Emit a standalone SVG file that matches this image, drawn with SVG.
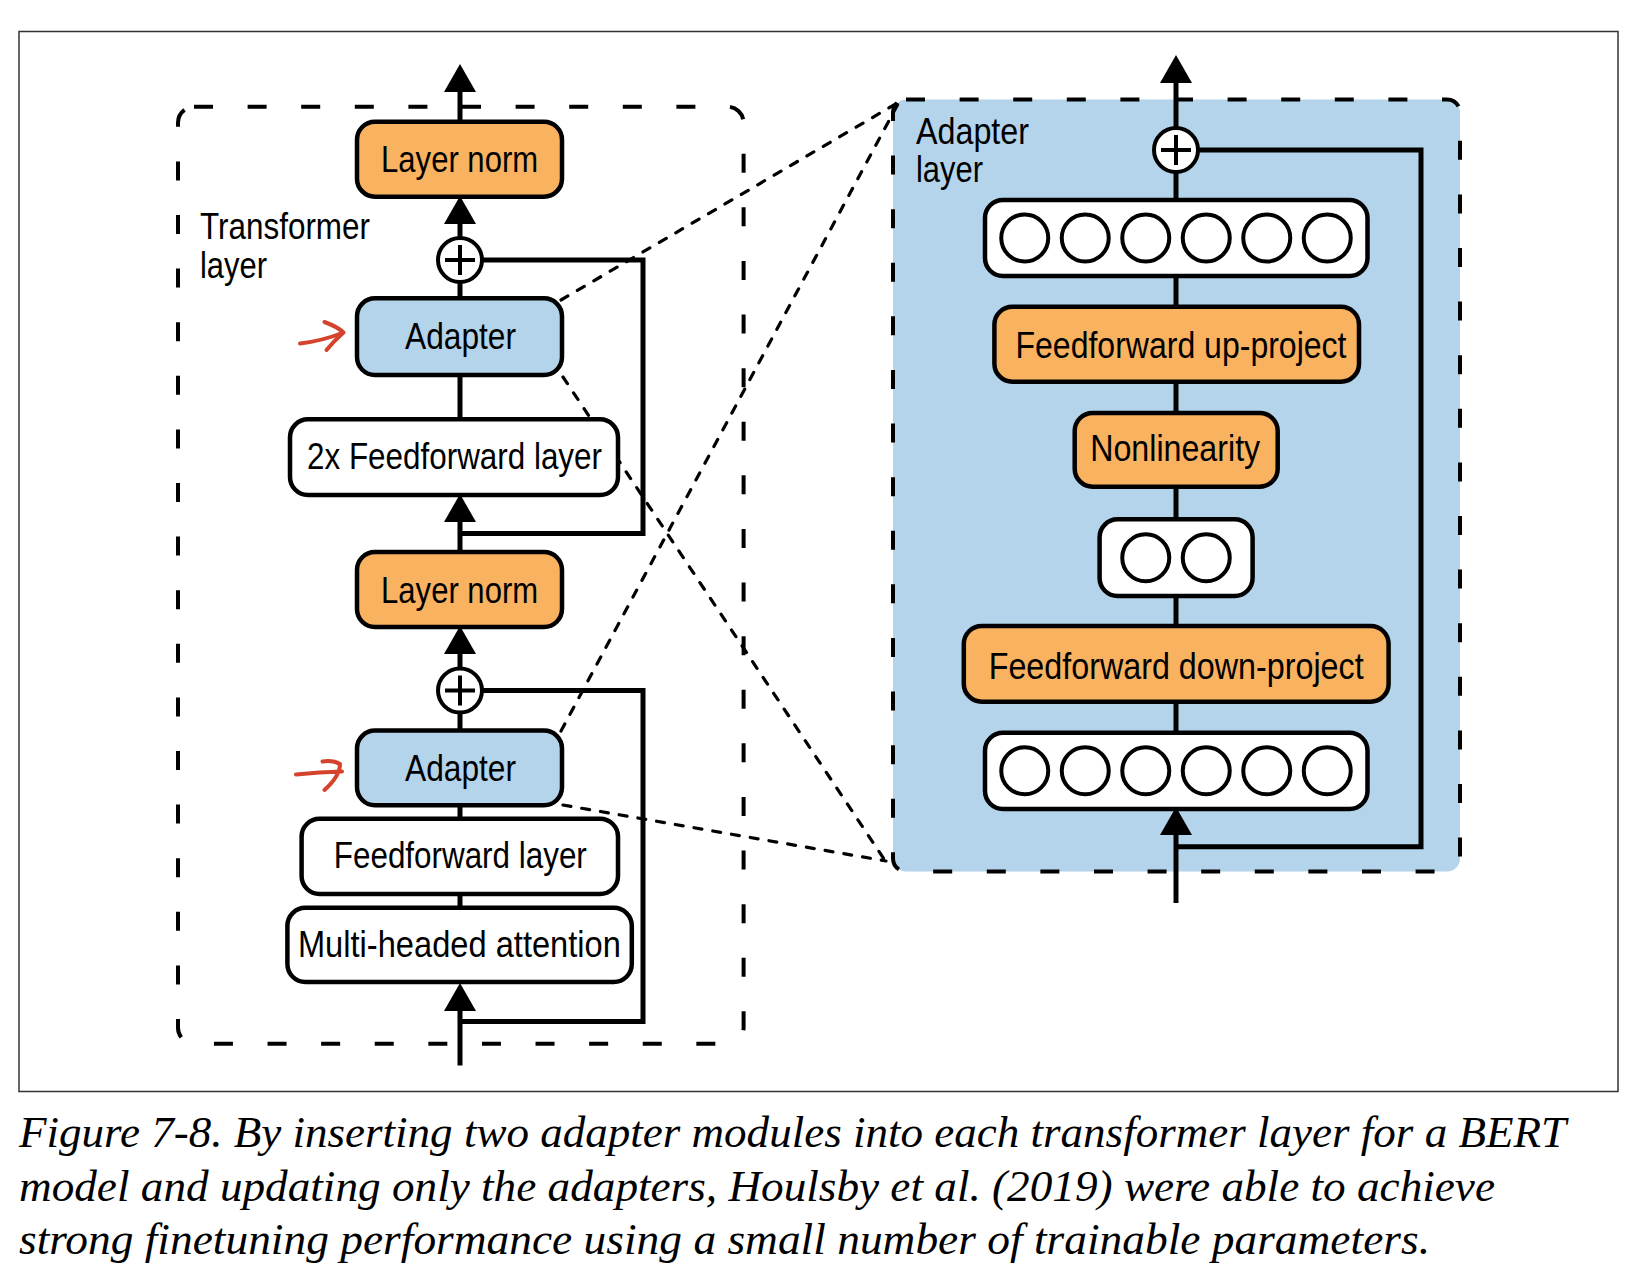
<svg xmlns="http://www.w3.org/2000/svg" width="1636" height="1286" viewBox="0 0 1636 1286">
<style>
.box{stroke:#000;stroke-width:4.5}
.orange{fill:#F9B25F}
.blue{fill:#B3D4EA}
.white{fill:#fff}
.lbl{font-family:"Liberation Sans","Noto Sans",sans-serif;font-size:37px;fill:#000}
.mid{text-anchor:middle}
.wire{fill:none;stroke:#000;stroke-width:5}
.dash{stroke:#000;stroke-width:4;stroke-dasharray:19 34.6}
.nofill{fill:none}
.zoomline{fill:none;stroke:#000;stroke-width:3.2;stroke-dasharray:8 11;stroke-linecap:round}
.neuron{fill:#fff;stroke:#000;stroke-width:4}
.plus{fill:#fff;stroke:#000;stroke-width:4}
.red{fill:none;stroke:#D4432B;stroke-width:4;stroke-linecap:round;stroke-linejoin:round}
.cap{font-family:"Liberation Serif","DejaVu Serif",serif;font-style:italic;font-size:45px;fill:#000}
</style>
<defs>
<marker id="ah" viewBox="0 0 28 32" refX="0" refY="16" markerWidth="28" markerHeight="32" markerUnits="userSpaceOnUse" orient="auto">
<path d="M0,0 L28,16 L0,32 Z" fill="#000"/>
</marker>
</defs>

<rect x="19" y="31.5" width="1599" height="1060" fill="#fff" stroke="#333" stroke-width="1.5"/>

<!-- containers -->
<g id="transformer-layer">
<rect class="dash nofill" x="178" y="106.7" width="565.6" height="937" rx="16"/>
<text class="lbl" x="200" y="239" textLength="170" lengthAdjust="spacingAndGlyphs">Transformer</text>
<text class="lbl" x="200" y="278" textLength="67" lengthAdjust="spacingAndGlyphs">layer</text>
</g>
<g id="adapter-layer">
<rect class="blue dash" x="893" y="99.5" width="567" height="772" rx="13"/>
<text class="lbl" x="916" y="144" textLength="113" lengthAdjust="spacingAndGlyphs">Adapter</text>
<text class="lbl" x="916" y="182" textLength="67" lengthAdjust="spacingAndGlyphs">layer</text>
</g>

<!-- connectors -->
<g id="connectors">
<line class="zoomline" x1="561" y1="300" x2="899" y2="102"/>
<line class="zoomline" x1="563" y1="377" x2="884" y2="859"/>
<line class="zoomline" x1="561" y1="731" x2="899" y2="102"/>
<line class="zoomline" x1="563" y1="805" x2="886" y2="861"/>

<line class="wire" x1="460" y1="122" x2="460" y2="92" marker-end="url(#ah)"/>
<line class="wire" x1="460" y1="238" x2="460" y2="224" marker-end="url(#ah)"/>
<line class="wire" x1="460" y1="298" x2="460" y2="282"/>
<line class="wire" x1="460" y1="419" x2="460" y2="375"/>
<line class="wire" x1="460" y1="552" x2="460" y2="522" marker-end="url(#ah)"/>
<line class="wire" x1="460" y1="668.5" x2="460" y2="654" marker-end="url(#ah)"/>
<line class="wire" x1="460" y1="730.6" x2="460" y2="712.5"/>
<line class="wire" x1="460" y1="818.7" x2="460" y2="805"/>
<line class="wire" x1="460" y1="907.8" x2="460" y2="894"/>
<line class="wire" x1="460" y1="1065.5" x2="460" y2="1011" marker-end="url(#ah)"/>
<path class="wire" d="M460,533.6 H643 V260 H482"/>
<path class="wire" d="M460,1021.5 H643 V690.5 H482"/>

<line class="wire" x1="1176" y1="128" x2="1176" y2="83" marker-end="url(#ah)"/>
<line class="wire" x1="1176" y1="200" x2="1176" y2="172"/>
<line class="wire" x1="1176" y1="306.7" x2="1176" y2="276"/>
<line class="wire" x1="1176" y1="413" x2="1176" y2="381.7"/>
<line class="wire" x1="1176" y1="519.3" x2="1176" y2="486.7"/>
<line class="wire" x1="1176" y1="626" x2="1176" y2="596"/>
<line class="wire" x1="1176" y1="732.7" x2="1176" y2="701.7"/>
<line class="wire" x1="1176" y1="903" x2="1176" y2="835" marker-end="url(#ah)"/>
<path class="wire" d="M1176,846.7 H1421 V150 H1198"/>
</g>

<!-- left column nodes -->
<g id="layer-norm-1">
<rect class="box orange" x="357" y="121.7" width="205" height="75" rx="18"/>
<text class="lbl mid" x="459.6" y="172" textLength="157" lengthAdjust="spacingAndGlyphs">Layer norm</text>
</g>
<g id="add-1">
<circle class="plus" cx="460" cy="260" r="22"/>
<path class="wire" style="stroke-width:4" d="M445,260 H475 M460,245 V275"/>
</g>
<g id="adapter-1">
<rect class="box blue" x="357" y="298.3" width="205" height="76.7" rx="18"/>
<text class="lbl mid" x="460.5" y="349" textLength="111" lengthAdjust="spacingAndGlyphs">Adapter</text>
</g>
<g id="feedforward-2x">
<rect class="box white" x="290" y="419.3" width="328" height="75.7" rx="18"/>
<text class="lbl mid" x="454.5" y="469" textLength="295" lengthAdjust="spacingAndGlyphs">2x Feedforward layer</text>
</g>
<g id="layer-norm-2">
<rect class="box orange" x="357" y="552" width="205" height="75" rx="18"/>
<text class="lbl mid" x="459.6" y="602.5" textLength="157" lengthAdjust="spacingAndGlyphs">Layer norm</text>
</g>
<g id="add-2">
<circle class="plus" cx="460" cy="690.5" r="22"/>
<path class="wire" style="stroke-width:4" d="M445,690.5 H475 M460,675.5 V705.5"/>
</g>
<g id="adapter-2">
<rect class="box blue" x="357" y="730.6" width="205" height="74.7" rx="18"/>
<text class="lbl mid" x="460.5" y="780.8" textLength="111" lengthAdjust="spacingAndGlyphs">Adapter</text>
</g>
<g id="feedforward">
<rect class="box white" x="301.6" y="818.7" width="316.4" height="75.3" rx="18"/>
<text class="lbl mid" x="460.3" y="868" textLength="253" lengthAdjust="spacingAndGlyphs">Feedforward layer</text>
</g>
<g id="attention">
<rect class="box white" x="287.4" y="907.8" width="344.4" height="74.2" rx="18"/>
<text class="lbl mid" x="459.4" y="957" textLength="323" lengthAdjust="spacingAndGlyphs">Multi-headed attention</text>
</g>

<!-- red marker arrows -->
<g id="marker-arrow-1">
<path class="red" d="M300,343.5 Q322,341 343.5,332.5 M324.5,322 Q338,327 343.5,332.5 Q334,341 326.5,350"/>
</g>
<g id="marker-arrow-2">
<path class="red" d="M296,774.5 Q320,772 342,771.5 M322.5,761.5 Q333,760 340,764 Q340,776 324.5,790"/>
</g>

<!-- right column nodes -->
<g id="add-3">
<circle class="plus" cx="1176" cy="150" r="22"/>
<path class="wire" style="stroke-width:4" d="M1161,150 H1191 M1176,135 V165"/>
</g>
<g id="units-out">
<rect class="box white" x="985" y="200" width="382.5" height="76" rx="18"/>
<circle class="neuron" cx="1024.75" cy="238" r="23.5"/>
<circle class="neuron" cx="1085.25" cy="238" r="23.5"/>
<circle class="neuron" cx="1145.75" cy="238" r="23.5"/>
<circle class="neuron" cx="1206.25" cy="238" r="23.5"/>
<circle class="neuron" cx="1266.75" cy="238" r="23.5"/>
<circle class="neuron" cx="1327.25" cy="238" r="23.5"/>
</g>
<g id="ff-up">
<rect class="box orange" x="994.4" y="306.7" width="364.6" height="75" rx="18"/>
<text class="lbl mid" x="1181" y="357.5" textLength="331" lengthAdjust="spacingAndGlyphs">Feedforward up-project</text>
</g>
<g id="nonlinearity">
<rect class="box orange" x="1074.7" y="413" width="203" height="73.7" rx="18"/>
<text class="lbl mid" x="1175.2" y="461" textLength="170" lengthAdjust="spacingAndGlyphs">Nonlinearity</text>
</g>
<g id="units-mid">
<rect class="box white" x="1099.6" y="519.3" width="153" height="76.7" rx="18"/>
<circle class="neuron" cx="1145.75" cy="557.7" r="23.5"/>
<circle class="neuron" cx="1206.25" cy="557.7" r="23.5"/>
</g>
<g id="ff-down">
<rect class="box orange" x="963.8" y="626" width="424.8" height="75.7" rx="18"/>
<text class="lbl mid" x="1176.2" y="679" textLength="375" lengthAdjust="spacingAndGlyphs">Feedforward down-project</text>
</g>
<g id="units-in">
<rect class="box white" x="985" y="732.7" width="382.5" height="76.3" rx="18"/>
<circle class="neuron" cx="1024.75" cy="770.8" r="23.5"/>
<circle class="neuron" cx="1085.25" cy="770.8" r="23.5"/>
<circle class="neuron" cx="1145.75" cy="770.8" r="23.5"/>
<circle class="neuron" cx="1206.25" cy="770.8" r="23.5"/>
<circle class="neuron" cx="1266.75" cy="770.8" r="23.5"/>
<circle class="neuron" cx="1327.25" cy="770.8" r="23.5"/>
</g>

<!-- caption -->
<g id="caption">
<text class="cap" x="19" y="1147" textLength="1547" lengthAdjust="spacingAndGlyphs">Figure 7-8. By inserting two adapter modules into each transformer layer for a BERT</text>
<text class="cap" x="19" y="1201" textLength="1476" lengthAdjust="spacingAndGlyphs">model and updating only the adapters, Houlsby et al. (2019) were able to achieve</text>
<text class="cap" x="19" y="1254" textLength="1411" lengthAdjust="spacingAndGlyphs">strong finetuning performance using a small number of trainable parameters.</text>
</g>
</svg>
